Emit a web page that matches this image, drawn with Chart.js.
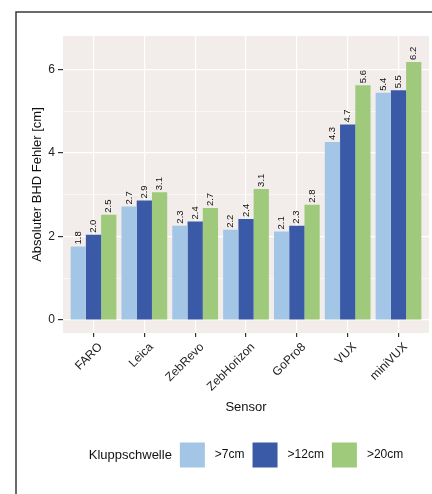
<!DOCTYPE html>
<html lang="de">
<head>
  <meta charset="UTF-8">
  <title>Absoluter BHD Fehler</title>
  <script src="https://cdn.jsdelivr.net/npm/chart.js"></script>
  <style>
    html, body { margin: 0; padding: 0; background: #fff; }
    #wrap { width: 432px; height: 494px; }
  </style>
</head>
<body>
  <div id="wrap"><canvas id="bhdChart"></canvas></div>

  <script>
    // Sensoren und Fehler je Kluppschwelle (cm)
    const sensoren = ['FARO', 'Leica', 'ZebRevo', 'ZebHorizon', 'GoPro8', 'VUX', 'miniVUX'];
    const schwellen = ['>7cm', '>12cm', '>20cm'];
    const fehler7 = [1.76, 2.72, 2.26, 2.16, 2.12, 4.26, 5.44];
    const fehler12 = [2.04, 2.86, 2.36, 2.42, 2.26, 4.68, 5.50];
    const fehler20 = [2.52, 3.06, 2.68, 3.14, 2.76, 5.62, 6.18];
    const yTicks = [0, 2, 4, 6];

    const farben = ['#a3c6e7', '#3a5aa8', '#9fca7c'];
    const serien = [fehler7, fehler12, fehler20];

    const punkte = werte => werte.map((v, i) => ({ x: i, y: v }));

    // Panel-Hintergrund und Rahmen
    const hintergrund = {
      id: 'hintergrund',
      beforeDraw(chart) {
        const { ctx, chartArea: a } = chart;
        ctx.save();
        ctx.fillStyle = '#fff';
        ctx.fillRect(0, 0, chart.width, chart.height);
        ctx.fillStyle = '#f2edea';
        ctx.fillRect(a.left, a.top, a.right - a.left, a.bottom - a.top);
        ctx.strokeStyle = '#3a3a3a';
        ctx.lineWidth = 1.5;
        ctx.beginPath();
        ctx.moveTo(16, chart.height);
        ctx.lineTo(16, 12);
        ctx.lineTo(chart.width, 12);
        ctx.stroke();
        ctx.restore();
      }
    };

    // Werte über den Balken
    const werteLabels = {
      id: 'werteLabels',
      afterDatasetsDraw(chart) {
        const ctx = chart.ctx;
        ctx.save();
        ctx.font = '9.5px "Liberation Sans", Arial, sans-serif';
        ctx.fillStyle = '#111';
        ctx.textAlign = 'left';
        ctx.textBaseline = 'middle';
        chart.data.datasets.forEach((ds, d) => {
          chart.getDatasetMeta(d).data.forEach((bar, i) => {
            ctx.save();
            ctx.translate(bar.x, bar.y - 2);
            ctx.rotate(-Math.PI / 2);
            ctx.fillText(ds.data[i].y.toFixed(1), 0, 0);
            ctx.restore();
          });
        });
        ctx.restore();
      }
    };

    // Legende unten, mit Titel links
    const legende = {
      id: 'legende',
      afterDraw(chart) {
        const { ctx, chartArea: a } = chart;
        const box = 25, y = 455;
        ctx.save();
        ctx.textBaseline = 'middle';
        ctx.textAlign = 'left';
        ctx.font = '13px "Liberation Sans", Arial, sans-serif';
        const titel = 'Kluppschwelle';
        const titelW = ctx.measureText(titel).width;
        ctx.font = '12px "Liberation Sans", Arial, sans-serif';
        const breiten = chart.data.datasets.map(ds => ctx.measureText(ds.label).width);
        let gesamt = titelW + 8;
        breiten.forEach((w, i) => { gesamt += box + 10 + w + (i < breiten.length - 1 ? 8 : 0); });
        let x = (a.left + a.right) / 2 - gesamt / 2;
        ctx.fillStyle = '#111';
        ctx.font = '13px "Liberation Sans", Arial, sans-serif';
        ctx.fillText(titel, x, y);
        x += titelW + 8;
        ctx.font = '12px "Liberation Sans", Arial, sans-serif';
        chart.data.datasets.forEach((ds, i) => {
          ctx.fillStyle = ds.backgroundColor;
          ctx.fillRect(x, y - box / 2, box, box);
          x += box + 10;
          ctx.fillStyle = '#111';
          ctx.fillText(ds.label, x, y);
          x += breiten[i] + 8;
        });
        ctx.restore();
      }
    };

    const schrift = '"Liberation Sans", Arial, sans-serif';

    new Chart(document.getElementById('bhdChart'), {
      type: 'bar',
      data: {
        datasets: serien.map((werte, s) => ({
          label: schwellen[s],
          data: punkte(werte),
          backgroundColor: farben[s],
          borderWidth: 0,
          categoryPercentage: 0.9,
          barPercentage: 1.0
        }))
      },
      options: {
        responsive: true,
        maintainAspectRatio: false,
        animation: false,
        layout: { padding: { left: 0, top: 36, right: 3, bottom: 0 } },
        plugins: {
          legend: { display: false },
          tooltip: { enabled: false }
        },
        scales: {
          x: {
            type: 'linear',
            min: -0.6,
            max: 6.6,
            offset: false,
            border: { display: false },
            grid: { offset: false, color: '#ffffff', lineWidth: 1.2, tickColor: '#333', tickLength: 4, tickWidth: 1.2 },
            ticks: {
              stepSize: 1,
              includeBounds: false,
              autoSkip: false,
              maxRotation: 45,
              minRotation: 45,
              padding: 3,
              labelOffset: 7,
              color: '#222',
              font: { family: schrift, size: 12 },
              callback: v => sensoren[v] ?? ''
            },
            title: {
              display: true,
              text: 'Sensor',
              color: '#111',
              font: { family: schrift, size: 13 },
              padding: { top: 0, bottom: 79 }
            },
            afterFit: s => { s.height = 161; }
          },
          y: {
            min: -0.31,
            max: 6.8,
            border: { display: false },
            grid: {
              color: '#ffffff',
              lineWidth: c => (c.tick && yTicks.includes(c.tick.value) ? 1.2 : 0.6),
              tickColor: c => (c.tick && yTicks.includes(c.tick.value) ? '#333' : 'rgba(0,0,0,0)'),
              tickLength: 5,
              tickWidth: 1.2
            },
            ticks: {
              stepSize: 1,
              includeBounds: false,
              padding: 3,
              color: '#222',
              font: { family: schrift, size: 12 },
              callback: v => (yTicks.includes(v) ? v : '')
            },
            title: {
              display: true,
              text: 'Absoluter BHD Fehler [cm]',
              color: '#111',
              font: { family: schrift, size: 13 },
              padding: { top: 30, bottom: 0 }
            },
            afterFit: s => { s.width = 63; }
          }
        }
      },
      plugins: [hintergrund, werteLabels, legende]
    });
  </script>
</body>
</html>
